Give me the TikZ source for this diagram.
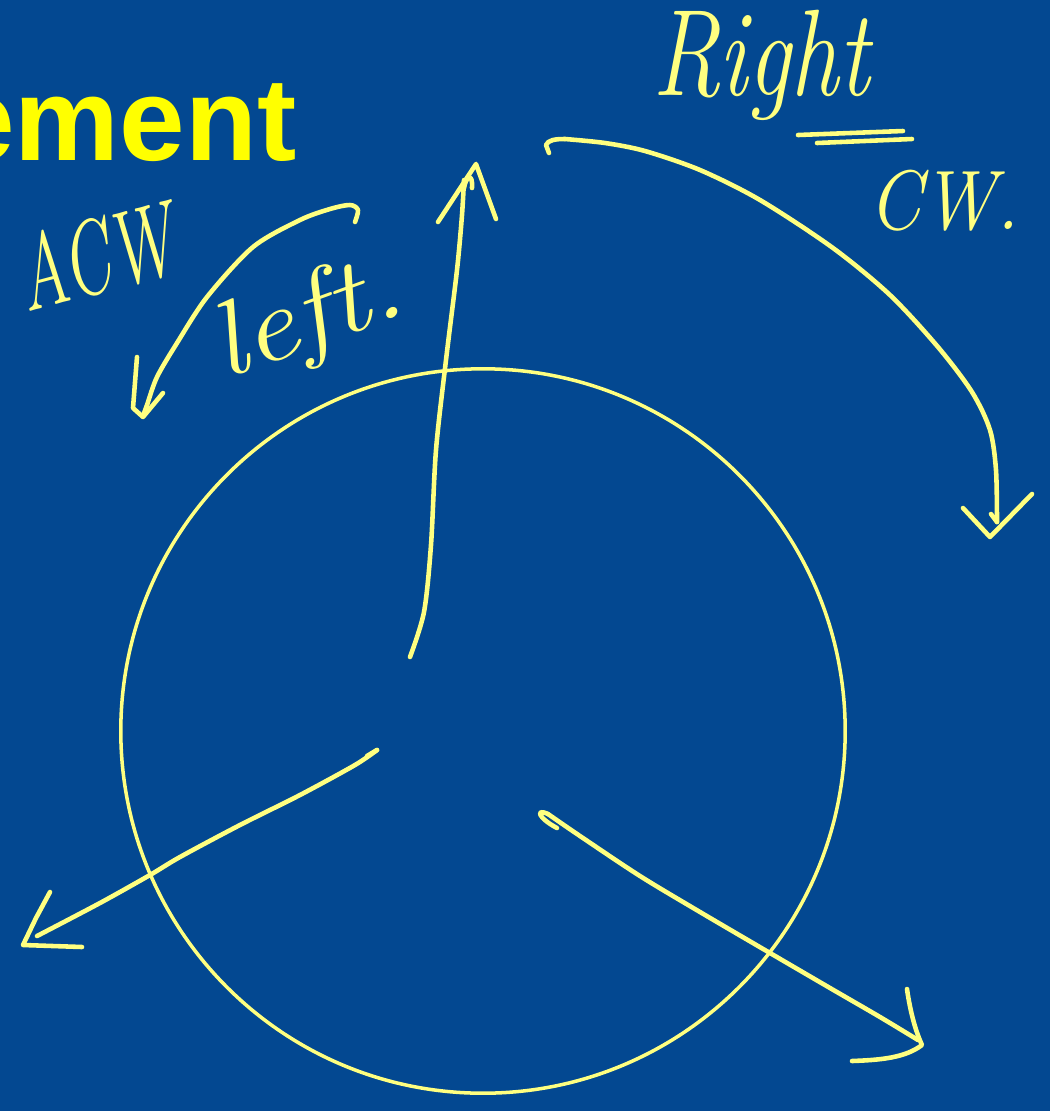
\documentclass[tikz,border=0pt]{standalone}
\usepackage{fontspec}
\newfontfamily\slidefont{Liberation Sans}
\definecolor{slideblue}{RGB}{3,72,145}
\definecolor{slideyellow}{RGB}{255,255,0}
\definecolor{pen}{RGB}{255,255,128}

\begin{document}
\begin{tikzpicture}[x=0.01cm, y=-0.01cm,
	ink/.style={pen, line width=1.3pt, line cap=round, line join=round},
	hand/.style={text=pen, inner sep=0pt}]
	\fill[slideblue] (0,0) rectangle (1050,1111);
	\useasboundingbox (0,0) rectangle (1050,1111);
	\begin{scope}
	\clip (0,0) rectangle (1050,1111);
	\node[anchor=base east, inner sep=0pt, text=slideyellow, font=\slidefont\bfseries\fontsize{33.5}{40}\selectfont] (title) at (297,160) {ement};
	\end{scope}
	\node[circle, draw=pen, line width=1pt, minimum size=7.24cm, inner sep=0pt] (wheel) at (483,731) {};
	\coordinate (upfoot) at (410,657);
	\coordinate (uptip) at (464,180);
	\coordinate (lefttail) at (377,750);
	\coordinate (lefttip) at (37,936);
	\coordinate (righttail) at (548,814);
	\coordinate (righttip) at (918,1040);
	\coordinate (cwstart) at (565,139);
	\coordinate (cwend) at (997,522);
	\coordinate (acwstart) at (355,222);
	\coordinate (acwend) at (143,416);
	\draw[ink] plot[smooth] coordinates {(upfoot) (424,612) (431,545) (436,450) (446,360) (457,270) (462,215) (uptip)};
	\draw[ink] (464,188) .. controls (466,176) and (473,172) .. (472,188);
	\draw[ink] (438,222) -- (476,164) -- (496,219);
	\draw[ink] (lefttail) -- (367,756);
	\draw[ink] plot[smooth] coordinates {(lefttail) (355,765) (300,795) (240,825) (180,857) (150,875) (100,903) (lefttip)};
	\draw[ink] (50,892) -- (36,918) -- (23,945) -- (82,947);
	\draw[ink] (557,828) .. controls (538,818) and (535,808) .. (righttail);
	\draw[ink] plot[smooth] coordinates {(righttail) (580,836) (640,876) (700,912) (770,953) (830,988) (880,1017) (righttip)};
	\draw[ink] (907,989) .. controls (910,1010) and (915,1030) .. (922,1045) .. controls (905,1058) and (880,1060) .. (852,1061);
	\draw[ink] (549,153) -- (546,145) .. controls (548,140) and (555,139) .. (cwstart);
	\draw[ink] plot[smooth] coordinates {(cwstart) (605,143) (645,151) (700,170) (760,200) (833,248) (890,295) (938,347) (972,392) (990,430) (996,470) (cwend)};
	\draw[ink] (cwend) -- (991,514);
	\draw[ink] (963,508) -- (990,537) -- (1032,494);
	\draw[ink] plot[smooth, tension=0.5] coordinates {(acwstart) (358,210) (350,205) (330,209) (300,220) (253,247) (207,297) (177,343) (157,377) (147,405) (acwend)};
	\draw[ink] (137,357) -- (133,408) -- (143,417) -- (163,393);
	\draw[ink] (798,135) -- (903,131);
	\draw[ink] (817,143) -- (912,139);
	\node[hand, anchor=base west, font=\itshape\fontsize{35}{40}\selectfont, xscale=0.78] (right) at (652,95) {Right};
	\node[hand, anchor=base west, font=\itshape\fontsize{24}{28}\selectfont, xscale=0.9] (cw) at (868,229) {CW.};
	\node[hand, anchor=base west, font=\itshape\fontsize{30}{34}\selectfont, rotate=15, xscale=0.65] (acw) at (26,313) {ACW};
	\node[hand, anchor=base west, font=\itshape\fontsize{30}{34}\selectfont, rotate=20, xscale=1.15] (left) at (224,380) {left.};
\end{tikzpicture}
\end{document}
